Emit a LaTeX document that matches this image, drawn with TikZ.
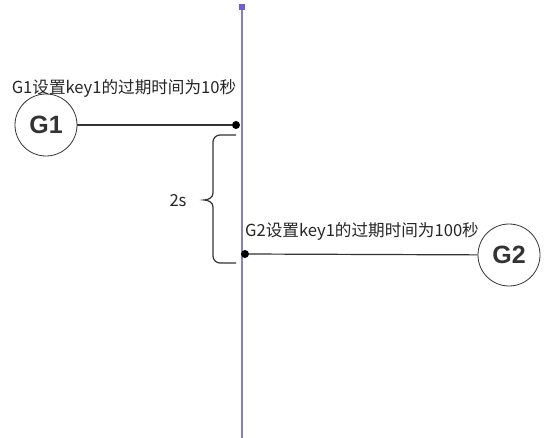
\documentclass[tikz,border=0pt]{standalone}
\usepackage{fontspec}
\newfontfamily\cjk{Noto Sans CJK SC}
\newfontfamily\gfont{Liberation Sans}
\definecolor{tl}{HTML}{8A7CCB}
\definecolor{tq}{HTML}{6F5FCF}
\definecolor{ink}{HTML}{333333}
\begin{document}
\begin{tikzpicture}[x=1pt,y=-1pt,
  actor/.style={circle,draw=ink,line width=0.8pt,minimum size=62pt,inner sep=0pt,font=\gfont\bfseries\fontsize{25}{25}\selectfont,text=ink},
  lbl/.style={font=\cjk\fontsize{16.6}{16.6}\selectfont,text=black!85,inner sep=0pt},
  dotn/.style={circle,fill=black,minimum size=8pt,inner sep=0pt},
  conn/.style={draw=ink,line width=1.2pt}]
\useasboundingbox (0,0) rectangle (551,438);
\fill[white] (0,0) rectangle (551,438);
% timeline
\coordinate (top) at (242,7);
\coordinate (bot) at (242,438);
\draw[tl,line width=1.2pt] (top) -- (bot);
\node[fill=tq,minimum size=6.5pt,inner sep=0pt] (sq) at (242,7) {};
% G1
\node[actor] (g1) at (46,125) {G1};
\node[dotn] (d1) at (236,125) {};
\draw[conn] (g1) -- (d1);
\node[lbl] (l1) at (124,88) {G1设置key1的过期时间为10秒};
% G2
\node[actor] (g2) at (509,255) {G2};
\node[dotn] (d2) at (245,254) {};
\draw[conn] (d2) -- (g2);
\node[lbl] (l2) at (362,231) {G2设置key1的过期时间为100秒};
% brace
\coordinate (bt) at (236,135);
\coordinate (bb) at (236,263);
\draw[ink,line width=1.2pt] (bt) -- (220,135) to[out=180,in=90] (213,142) -- (213,193) to[out=270,in=0] (204,200) to[out=0,in=90] (213,207) -- (213,256) to[out=270,in=180] (220,263) -- (bb);
\node[lbl] (two) at (178,201) {2s};
\end{tikzpicture}
\end{document}
